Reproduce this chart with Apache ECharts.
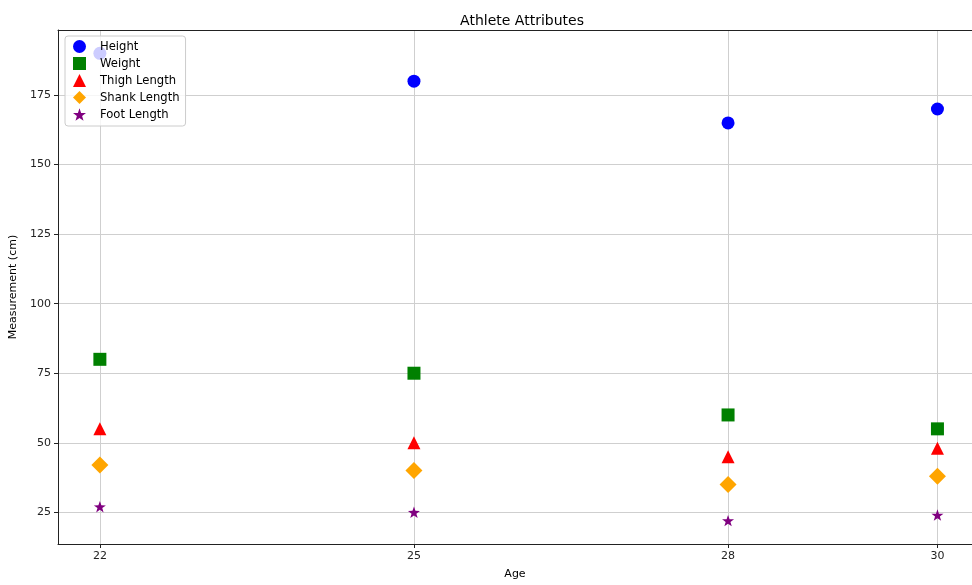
<!DOCTYPE html>
<html>
<head>
<meta charset="utf-8">
<script src="https://cdn.jsdelivr.net/npm/echarts@6/dist/echarts.min.js"></script>
<style>
  html, body { margin: 0; padding: 0; background: #fff; }
  #chart { width: 972px; height: 585px; }
</style>
</head>
<body>
<div id="chart"></div>
<script>
// Athlete measurements by age
const ages = [22, 25, 28, 30];
const height = [190, 180, 165, 170];
const weight = [80, 75, 60, 55];
const thighLength = [55, 50, 45, 48];
const shankLength = [42, 40, 35, 38];
const footLength = [27, 25, 22, 24];
const yTicks = [25, 50, 75, 100, 125, 150, 175];

const STAR = 'path://M0,-10 L2.35,-3.24 L9.51,-3.09 L3.8,1.24 L5.88,8.09 L0,4 L-5.88,8.09 L-3.8,1.24 L-9.51,-3.09 L-2.35,-3.24 Z';
const FONT = 'DejaVu Sans';
const X_MIN = 21.6, X_MAX = 30.33;

function pairs(vals) {
  return ages.map((a, i) => [a, vals[i]]);
}

function scatter(name, vals, symbol, size, color) {
  return {
    name: name,
    type: 'scatter',
    data: pairs(vals),
    symbol: symbol,
    symbolSize: size,
    symbolKeepAspect: true,
    itemStyle: { color: color, opacity: 1 },
    emphasis: { disabled: true }
  };
}

const chart = echarts.init(document.getElementById('chart'), null, { renderer: 'canvas' });

chart.setOption({
  animation: false,
  backgroundColor: '#ffffff',
  title: {
    text: 'Athlete Attributes',
    left: 517,
    textAlign: 'center',
    top: 9,
    textStyle: { fontFamily: FONT, fontSize: 14, fontWeight: 'normal', color: '#000' }
  },
  grid: {
    left: 58,
    right: 0,
    top: 30,
    bottom: 38,
    containLabel: false
  },
  legend: {
    orient: 'vertical',
    left: 65,
    top: 36,
    padding: [4, 6, 5, 8],
    itemWidth: 13,
    itemHeight: 13,
    itemGap: 4,
    backgroundColor: 'rgba(255,255,255,0.8)',
    borderColor: '#cccccc',
    borderWidth: 1,
    borderRadius: 3,
    textStyle: { fontFamily: FONT, fontSize: 11.6, color: '#000', padding: [0, 0, 0, 9], lineHeight: 13 },
    data: ['Height', 'Weight', 'Thigh Length', 'Shank Length', 'Foot Length']
  },
  xAxis: [{
    type: 'value',
    min: X_MIN,
    max: X_MAX,
    name: 'Age',
    nameLocation: 'middle',
    nameGap: 25,
    nameTextStyle: { fontFamily: FONT, fontSize: 11, color: '#000' },
    axisLine: { show: true, onZero: false, lineStyle: { color: '#222', width: 1 } },
    axisTick: { show: true, length: 4, customValues: ages, lineStyle: { color: '#222' } },
    axisLabel: { customValues: ages, fontFamily: FONT, fontSize: 11, color: '#222', margin: 7 },
    splitLine: { show: true, lineStyle: { color: '#cfcfcf', width: 1 } }
  }, {
    // top spine
    type: 'value',
    position: 'top',
    min: X_MIN,
    max: X_MAX,
    axisLine: { show: true, onZero: false, lineStyle: { color: '#222', width: 1 } },
    axisTick: { show: false },
    axisLabel: { show: false },
    splitLine: { show: false }
  }],
  yAxis: {
    type: 'value',
    min: 13.6,
    max: 198.4,
    name: 'Measurement (cm)',
    nameLocation: 'middle',
    nameGap: 36,
    nameTextStyle: { fontFamily: FONT, fontSize: 11, color: '#000' },
    axisLine: { show: true, onZero: false, lineStyle: { color: '#222', width: 1 } },
    axisTick: { show: true, length: 4, customValues: yTicks, lineStyle: { color: '#222' } },
    axisLabel: { customValues: yTicks, fontFamily: FONT, fontSize: 11, color: '#222', margin: 7 },
    splitLine: { show: true, lineStyle: { color: '#cfcfcf', width: 1 } }
  },
  series: [
    scatter('Height', height, 'circle', 13, '#0000ff'),
    scatter('Weight', weight, 'rect', 13, '#008000'),
    scatter('Thigh Length', thighLength, 'triangle', 13, '#ff0000'),
    scatter('Shank Length', shankLength, 'diamond', 17, '#ffa500'),
    scatter('Foot Length', footLength, STAR, 12, '#800080')
  ]
});
</script>
</body>
</html>
